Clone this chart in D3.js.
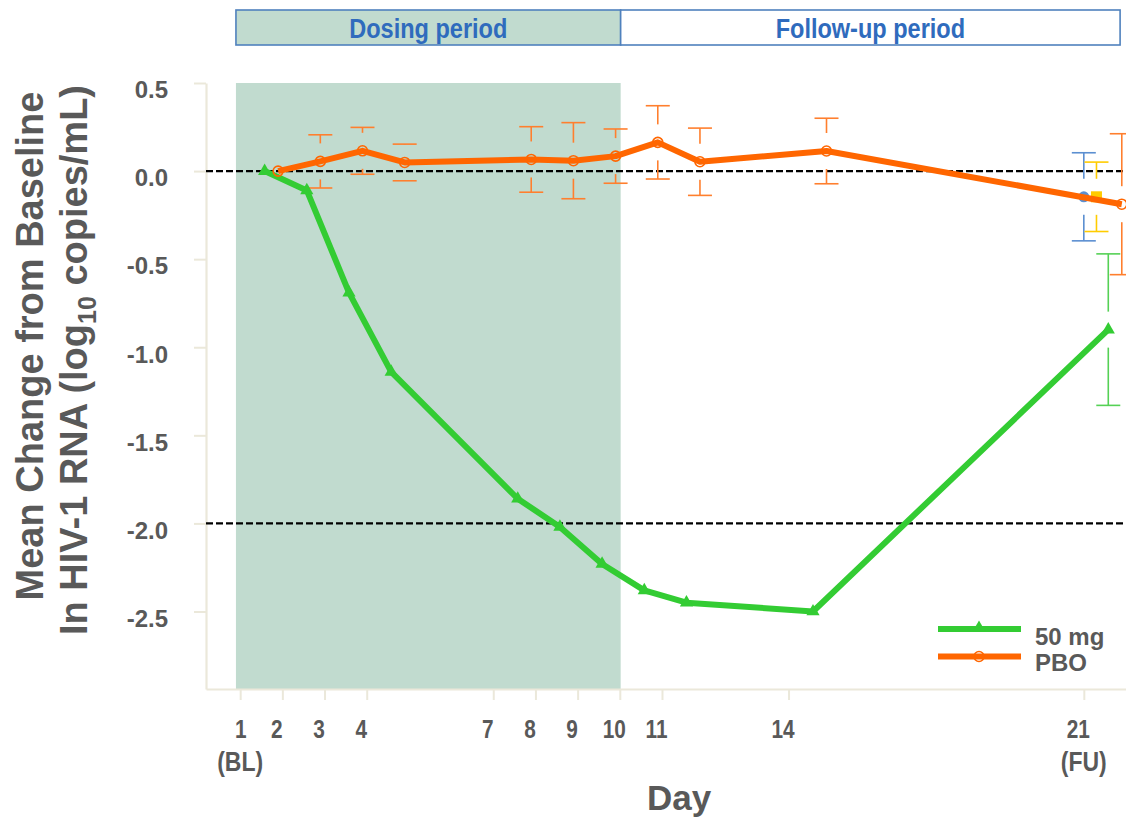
<!DOCTYPE html>
<html>
<head>
<meta charset="utf-8">
<script src="https://d3js.org/d3.v7.min.js"></script>
<style>
  html, body { margin: 0; padding: 0; background: #ffffff; }
  svg { display: block; }
  .narrow { font-family: "Liberation Sans", Arial, sans-serif; font-weight: bold; }
  .wide { font-family: "Liberation Sans", Arial, sans-serif; font-weight: bold; }
</style>
</head>
<body>
<svg id="chart" width="1126" height="818"></svg>
<script>
// Study days on the x axis
const days = [1, 2, 3, 4, 7, 8, 9, 10, 11, 14, 21];
const dayLabels = ["1", "2", "3", "4", "7", "8", "9", "10", "11", "14", "21"];
const daySubDays = [1, 21];
const daySubLabels = ["(BL)", "(FU)"];

// Y axis ticks
const yTicks = [0.5, 0.0, -0.5, -1.0, -1.5, -2.0, -2.5];
const refLines = [0, -2];

// Mean change from baseline (log10 copies/mL) and standard errors
const mean50mg = [0.00, -0.11, -0.69, -1.14, -1.86, -2.02, -2.23, -2.38, -2.45, -2.50, -0.90];
const se50mg   = [null, null, null, null, null, null, null, null, null, null, 0.43];
const meanPBO  = [0.00, 0.055, 0.115, 0.049, 0.066, 0.059, 0.085, 0.163, 0.053, 0.114, -0.188];
const sePBO    = [null, 0.151, 0.133, 0.104, 0.186, 0.216, 0.154, 0.208, 0.191, 0.186, 0.40];

// Other dose groups shown only at follow-up
const fuDays = [21];
const meanFuBlue = [-0.146];
const seFuBlue   = [0.25];
const meanFuGold = [-0.146];
const seFuGold   = [0.197];

// Study periods (start day, end day)
const periodNames = ["Dosing period", "Follow-up period"];
const periodStarts = [0.9, 10.02];
const periodEnds = [10.02, 21.86];

const legendNames = ["50 mg", "PBO"];

const svg = d3.select("#chart");
const textColor = "#595959";
const axisColor = "#ebe8da";
const shadeColor = "#c1dbcf";
const bannerStroke = "#4f81bd";
const bannerText = "#2f6bbd";
const green = "#33cc33";
const orange = "#ff6600";

const x = d3.scaleLinear().domain([0.19, 22]).range([206, 1126]);
const y = d3.scaleLinear().domain([-2.94, 0.5]).range([689, 83]);

// horizontal dodge (in days) so the groups do not overlap
const dodge = { g50: 0.58, pbo: 0.9, blue: 0.0, gold: 0.3 };

// condensed look: squeeze glyphs horizontally
function condense(sel, ratio) {
  sel.each(function () {
    const w = this.getComputedTextLength();
    d3.select(this).attr("textLength", w * ratio).attr("lengthAdjust", "spacingAndGlyphs");
  });
}

// shaded dosing period in plot
svg.append("rect")
  .attr("x", x(periodStarts[0])).attr("y", y(0.5))
  .attr("width", x(periodEnds[0]) - x(periodStarts[0]))
  .attr("height", y(-2.94) - y(0.5))
  .attr("fill", shadeColor);

// period banner
const banner = svg.append("g");
periodNames.forEach((name, i) => {
  const x0 = x(periodStarts[i]), x1 = x(periodEnds[i]);
  banner.append("rect")
    .attr("x", x0).attr("y", 10).attr("width", x1 - x0).attr("height", 35)
    .attr("fill", i === 0 ? shadeColor : "#ffffff")
    .attr("stroke", bannerStroke).attr("stroke-width", 1.6);
  banner.append("text").attr("class", "narrow")
    .attr("x", (x0 + x1) / 2).attr("y", 38)
    .attr("text-anchor", "middle")
    .attr("font-size", 28).attr("fill", bannerText)
    .text(name)
    .call(condense, 0.84);
});

// axes
const yAxis = d3.axisLeft(y).tickValues(yTicks).tickSize(12).tickSizeOuter(0).tickPadding(26)
  .tickFormat(d => d3.format(".1f")(d).replace("\u2212", "-"));
const gy = svg.append("g").attr("transform", "translate(206,0)").call(yAxis);
gy.select(".domain").attr("stroke", axisColor).attr("stroke-width", 2.2);
gy.selectAll(".tick line").attr("stroke", axisColor).attr("stroke-width", 2);
gy.selectAll(".tick text").attr("class", "wide").attr("font-size", 24)
  .attr("fill", textColor).attr("dy", "0.95em")
  .attr("transform", "translate(0,-8)");

const xAxis = d3.axisBottom(x).tickValues(days).tickSize(11).tickSizeOuter(0).tickPadding(20)
  .tickFormat((d, i) => dayLabels[i]);
const gx = svg.append("g").attr("transform", "translate(0,689)").call(xAxis);
gx.select(".domain").attr("stroke", axisColor).attr("stroke-width", 2.2);
gx.selectAll(".tick line").attr("stroke", axisColor).attr("stroke-width", 2);
gx.selectAll(".tick text").attr("class", "narrow").attr("font-size", 26)
  .attr("fill", textColor).attr("dy", "0.71em")
  .attr("x", d => (d === 1 ? 0 : -6))
  .call(condense, 0.8);

svg.append("g").selectAll("text").data(daySubDays).join("text")
  .attr("class", "narrow")
  .attr("x", d => x(d)).attr("y", 771)
  .attr("text-anchor", "middle").attr("font-size", 28).attr("fill", textColor)
  .text((d, i) => daySubLabels[i])
  .call(condense, 0.82);

// axis titles
svg.append("text").attr("class", "wide")
  .attr("x", 679).attr("y", 810).attr("text-anchor", "middle")
  .attr("font-size", 35).attr("fill", textColor).text("Day");

const yTitle = svg.append("g").attr("class", "wide").attr("fill", textColor).attr("font-size", 38);
yTitle.append("text")
  .attr("transform", "translate(43,346) rotate(-90)")
  .attr("text-anchor", "middle")
  .text("Mean Change from Baseline");
const t2 = yTitle.append("text")
  .attr("transform", "translate(87,360) rotate(-90)")
  .attr("text-anchor", "middle");
t2.append("tspan").text("In HIV-1 RNA (log");
t2.append("tspan").attr("font-size", 25).attr("dy", 9).text("10");
t2.append("tspan").attr("dy", -9).text(" copies/mL)");

// reference lines
svg.append("g").selectAll("line").data(refLines).join("line")
  .attr("x1", 206).attr("x2", 1126)
  .attr("y1", d => y(d)).attr("y2", d => y(d))
  .attr("stroke", "#000").attr("stroke-width", 2.2).attr("stroke-dasharray", "7,3");

// error bars: caps plus stems that stop short of the marker
const gap = 18, capHalf = 12;
function errorBars(xs, means, ses, off, color) {
  const data = xs.map((d, i) => ({ d, m: means[i], s: ses[i] })).filter(e => e.s != null);
  const eg = svg.append("g").attr("stroke", color).attr("stroke-width", 1.6).attr("fill", "none");
  data.forEach(e => {
    const cx = x(e.d + off), cy = y(e.m);
    const top = y(e.m + e.s), bot = y(e.m - e.s);
    eg.append("line").attr("x1", cx - capHalf).attr("x2", cx + capHalf).attr("y1", top).attr("y2", top);
    eg.append("line").attr("x1", cx - capHalf).attr("x2", cx + capHalf).attr("y1", bot).attr("y2", bot);
    if (cy - top > gap) eg.append("line").attr("x1", cx).attr("x2", cx).attr("y1", top).attr("y2", cy - gap);
    if (bot - cy > gap) eg.append("line").attr("x1", cx).attr("x2", cx).attr("y1", cy + gap).attr("y2", bot);
  });
}

errorBars(days, mean50mg, se50mg, dodge.g50, "#55d155");
errorBars(days, meanPBO, sePBO, dodge.pbo, "#ff7f2e");
errorBars(fuDays, meanFuBlue, seFuBlue, dodge.blue, "#5b8fd1");
errorBars(fuDays, meanFuGold, seFuGold, dodge.gold, "#ffcc00");

// follow-up markers for the other groups
svg.append("g").selectAll("circle").data(fuDays).join("circle")
  .attr("cx", d => x(d + dodge.blue)).attr("cy", (d, i) => y(meanFuBlue[i]))
  .attr("r", 5.5).attr("fill", "#5b8fd1");
svg.append("g").selectAll("rect").data(fuDays).join("rect")
  .attr("x", d => x(d + dodge.gold) - 5.5).attr("y", (d, i) => y(meanFuGold[i]) - 5.5)
  .attr("width", 11).attr("height", 11).attr("fill", "#ffcc00");

// 50 mg line
const line = (off) => d3.line().x((d, i) => x(days[i] + off)).y(d => y(d));
svg.append("path").datum(mean50mg)
  .attr("d", line(dodge.g50))
  .attr("fill", "none").attr("stroke", green).attr("stroke-width", 6).attr("stroke-linejoin", "round");
svg.append("g").selectAll("path").data(mean50mg).join("path")
  .attr("transform", (d, i) => `translate(${x(days[i] + dodge.g50)},${y(d)})`)
  .attr("d", d3.symbol().type(d3.symbolTriangle).size(75))
  .attr("fill", green);

// placebo line
svg.append("path").datum(meanPBO)
  .attr("d", line(dodge.pbo))
  .attr("fill", "none").attr("stroke", orange).attr("stroke-width", 6).attr("stroke-linejoin", "round");
svg.append("g").selectAll("circle").data(meanPBO).join("circle")
  .attr("cx", (d, i) => x(days[i] + dodge.pbo)).attr("cy", d => y(d))
  .attr("r", 5).attr("fill", "none").attr("stroke", orange).attr("stroke-width", 1.6);

// legend
const lg = svg.append("g");
const legendColors = [green, orange];
legendNames.forEach((name, i) => {
  const ly = 629 + i * 27.5;
  lg.append("line").attr("x1", 938).attr("x2", 1021).attr("y1", ly).attr("y2", ly)
    .attr("stroke", legendColors[i]).attr("stroke-width", 6);
  if (i === 0) {
    lg.append("path").attr("transform", `translate(979,${ly - 1})`)
      .attr("d", d3.symbol().type(d3.symbolTriangle).size(75)).attr("fill", green);
  } else {
    lg.append("circle").attr("cx", 979).attr("cy", ly).attr("r", 5)
      .attr("fill", "none").attr("stroke", orange).attr("stroke-width", 1.6);
  }
  lg.append("text").attr("class", "wide")
    .attr("x", 1035).attr("y", ly + 16 - i * 1.5)
    .attr("font-size", 24).attr("fill", textColor).text(name);
});
</script>
</body>
</html>
